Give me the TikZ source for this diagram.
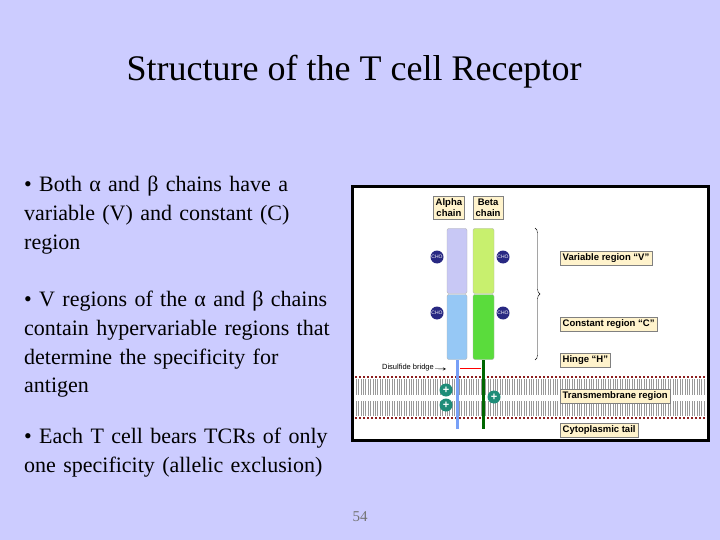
\documentclass[tikz,border=0pt]{standalone}
\usepackage{fontspec}
\setmainfont{Liberation Serif}
\newfontfamily\lab{Liberation Sans}
\usetikzlibrary{decorations.pathreplacing}
\definecolor{bg}{RGB}{204,204,255}
\definecolor{tag}{RGB}{255,243,204}
\definecolor{av}{RGB}{200,200,245}
\definecolor{ac}{RGB}{150,200,245}
\definecolor{bv}{RGB}{200,240,110}
\definecolor{bc}{RGB}{90,220,60}
\definecolor{mem}{RGB}{140,30,30}
\definecolor{cho}{RGB}{40,40,130}
\definecolor{pl}{RGB}{30,140,120}
\tikzset{
 tagbox/.style={draw=black!50,fill=tag,font=\lab\bfseries\fontsize{9.5}{11}\selectfont,inner sep=2.5pt,anchor=west},
 chobox/.style={circle,fill=cho,minimum size=13pt,inner sep=0pt,text=white,font=\lab\fontsize{5}{5}\selectfont},
 plus/.style={circle,fill=pl,minimum size=13pt,inner sep=0pt,text=white,font=\lab\bfseries\fontsize{11}{11}\selectfont},
 body/.style={font=\fontsize{22}{28.7}\selectfont,align=left,anchor=north west,text width=320pt,inner sep=0pt}
}
\begin{document}
\begin{tikzpicture}[x=1pt,y=-1pt]
\fill[bg] (0,0) rectangle (720,540);
\useasboundingbox (0,0) rectangle (720,540);
\node (title) at (354,72) {\fontsize{36}{40}\selectfont Structure of the T cell Receptor};
\node[body] (t1) at (24,176) {\raggedright • Both α and β chains have a variable (V) and constant (C) region\par};
\node[body] (t2) at (24,291) {\raggedright • V regions of the α and β chains contain hypervariable regions that determine the specificity for antigen\par};
\node[body] (t3) at (24,428) {\raggedright • Each T cell bears TCRs of only one specificity (allelic exclusion)\par};
\node[text=black!55] (num) at (360,517) {\fontsize{15}{16}\selectfont 54};
% figure
\draw[line width=3pt,fill=white] (352,187) rectangle (708,440);
% membrane
\foreach \x in {356,358.4,...,705} {\draw[black!40,line width=0.5pt] (\x,379) -- (\x,395) (\x,401) -- (\x,416);}
\draw[mem,line width=2pt,dotted] (355,377) -- (705,377);
\draw[mem,line width=2pt,dotted] (355,418) -- (705,418);
% chains
\draw[ac!80!blue,line width=3pt] (457,360) -- (457,429);
\draw[green!40!black,line width=3pt] (483,360) -- (483,429);
\draw[red,line width=1pt] (460,368) -- (481,368);
\node[draw=black!30,fill=av,rounded corners=2pt,minimum width=20pt,minimum height=65pt,inner sep=0pt] (av) at (457,261) {};
\node[draw=black!30,fill=ac,rounded corners=2pt,minimum width=20pt,minimum height=65pt,inner sep=0pt] (ac) at (457,327) {};
\node[draw=black!30,fill=bv,rounded corners=2pt,minimum width=21pt,minimum height=65pt,inner sep=0pt] (bv) at (483.5,261) {};
\node[draw=black!30,fill=bc,rounded corners=2pt,minimum width=21pt,minimum height=65pt,inner sep=0pt] (bc) at (483.5,327) {};
\node[tagbox,align=center] (al) at (433,208) {Alpha\\chain};
\node[tagbox,align=center] (bl) at (473,208) {Beta\\chain};
\node[chobox] (c1) at (437,257) {CHO};
\node[chobox] (c2) at (437,313) {CHO};
\node[chobox] (c3) at (503,257) {CHO};
\node[chobox] (c4) at (503,313) {CHO};
\node[plus] (p1) at (446,390) {+};
\node[plus] (p2) at (446,405) {+};
\node[plus] (p3) at (494,397) {+};
\draw[decorate,decoration={brace,amplitude=5pt}] (535,228) -- (535,360);
\node[tagbox] (vr) at (560,258) {Variable region “V”};
\node[tagbox] (cr) at (560,324) {Constant region “C”};
\node[tagbox] (hr) at (560,360) {Hinge “H”};
\node[tagbox] (tr) at (560,396) {Transmembrane region};
\node[tagbox] (cy) at (560,430) {Cytoplasmic tail};
\node[font=\lab\fontsize{7.5}{8}\selectfont,anchor=east,inner sep=1pt] (ds) at (435,368) {Disulfide bridge};
\coordinate (dse) at (446,369);
\draw[-stealth] (ds) -- (dse);
\end{tikzpicture}
\end{document}
